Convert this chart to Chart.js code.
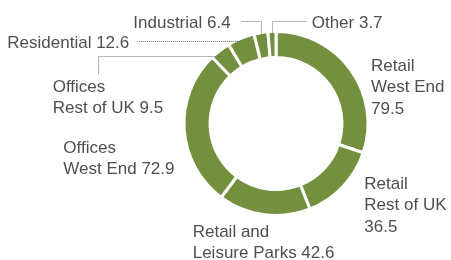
<!DOCTYPE html>
<html>
<head>
<meta charset="utf-8">
<script src="https://cdn.jsdelivr.net/npm/chart.js@4"></script>
<style>
html, body { margin: 0; padding: 0; background: #fff; }
</style>
</head>
<body>
<canvas id="c" width="451" height="260"></canvas>
<script>
var categories = ["Retail\nWest End", "Retail\nRest of UK", "Retail and\nLeisure Parks", "Offices\nWest End",
    "Offices\nRest of UK", "Residential", "Industrial", "Other"];
var values = [79.5, 36.5, 42.6, 72.9, 9.5, 12.6, 6.4, 3.7];
var valueOnOwnLine = [true, true, false, false, false, false, false, false];

// where each label sits, and how its dotted leader runs (layout only)
var spots = [
    { x: 371, y: 70.7 },
    { x: 364.3, y: 189 },
    { x: 192.7, y: 236.7 },
    { x: 63.3, y: 152.7 },
    { x: 52.7, y: 92, leader: "down", lx: 98.5, ly: 56.5, ybot: 74 },
    { x: 7.3, y: 48, leader: "side", lx: 137.5, ly: 41.5 },
    { x: 133.3, y: 28.3, leader: "up", lx: 241.5, ly: 21.5 },
    { x: 311.7, y: 28.3, leader: "up", lx: 306.5, ly: 21.5 }
];

var labelPlugin = {
    id: "labels",
    afterDraw: function (chart) {
        var ctx = chart.ctx;
        var meta = chart.getDatasetMeta(0);
        ctx.save();
        ctx.font = "17px 'Liberation Sans', Arial, sans-serif";
        ctx.fillStyle = "#4f4f4f";
        ctx.textBaseline = "alphabetic";
        meta.data.forEach(function (arc, i) {
            var s = spots[i];
            var lines = categories[i].split("\n");
            if (valueOnOwnLine[i]) lines.push(String(values[i]));
            else lines[lines.length - 1] += " " + values[i];
            lines.forEach(function (t, k) {
                ctx.fillText(t, s.x, s.y + k * 21.4);
            });

            if (!s.leader) return;
            var p = arc.getProps(["x", "y", "startAngle", "endAngle", "outerRadius"], true);
            var mid = (p.startAngle + p.endAngle) / 2;
            ctx.strokeStyle = "#6e6e6e";
            ctx.lineWidth = 1;
            ctx.setLineDash([1, 1]);
            ctx.beginPath();
            if (s.leader === "up") {
                var vx = Math.round(p.x + Math.cos(mid) * p.outerRadius) + 0.5;
                var vy = p.y + Math.sin(mid) * (p.outerRadius - 5);
                ctx.moveTo(s.lx, s.ly);
                ctx.lineTo(vx, s.ly);
                ctx.lineTo(vx, vy);
            } else {
                var tt = (s.ly - p.y) / Math.sin(mid);
                var ex = p.x + Math.cos(mid) * tt;
                ctx.moveTo(ex, s.ly);
                ctx.lineTo(s.lx, s.ly);
                if (s.leader === "down") ctx.lineTo(s.lx, s.ybot);
            }
            ctx.stroke();
        });
        ctx.restore();
    }
};

new Chart(document.getElementById("c"), {
    type: "doughnut",
    data: {
        labels: categories,
        datasets: [{
            data: values,
            backgroundColor: "#72903d",
            borderColor: "#ffffff",
            borderWidth: 3,
            hoverOffset: 0
        }]
    },
    options: {
        responsive: false,
        animation: false,
        cutout: "71.7%",
        layout: {
            padding: { left: 182.5, right: 81.5, top: 30, bottom: 43 }
        },
        plugins: {
            legend: { display: false },
            tooltip: { enabled: false }
        }
    },
    plugins: [labelPlugin]
});
</script>
</body>
</html>
